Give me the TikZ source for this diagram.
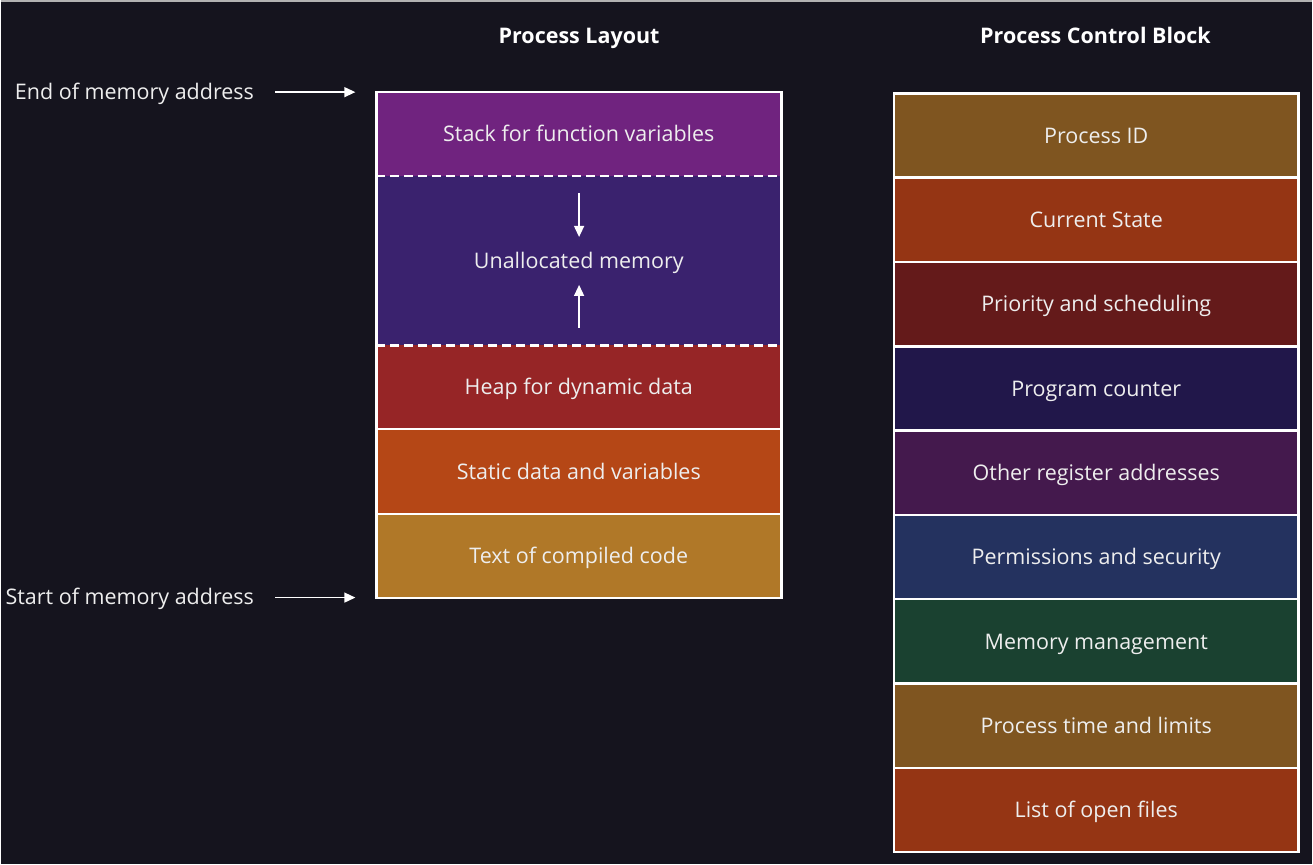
\documentclass[tikz,border=0pt]{standalone}
\usepackage{fontspec}
\setmainfont{Open Sans}
\usetikzlibrary{arrows.meta}
\definecolor{bg}{HTML}{15141E}
\definecolor{fg}{HTML}{EEEEEE}
\definecolor{cStack}{HTML}{70237F}
\definecolor{cFree}{HTML}{3A226E}
\definecolor{cHeap}{HTML}{962526}
\definecolor{cStatic}{HTML}{B54716}
\definecolor{cText}{HTML}{B07828}
\definecolor{cPid}{HTML}{7F5520}
\definecolor{cState}{HTML}{953514}
\definecolor{cPrio}{HTML}{641A1A}
\definecolor{cPc}{HTML}{21174A}
\definecolor{cReg}{HTML}{44194D}
\definecolor{cPerm}{HTML}{24325F}
\definecolor{cMem}{HTML}{1A4130}
\tikzset{
  cell/.style={anchor=north west, minimum width=405pt, inner sep=0pt,
    text height=18pt, text depth=2.6pt,
    text=fg, font=\fontsize{21.5}{25}\selectfont},
  pcb/.style={cell, draw=white, line width=2.5pt, minimum height=84.4pt},
  title/.style={anchor=base, text=white, font=\fontsize{21.5}{25}\selectfont\bfseries},
  side/.style={text=fg, font=\fontsize{21.5}{25}\selectfont, anchor=base east},
  arr/.style={draw=white, line width=1.3pt, -{Triangle[length=11pt,width=10pt]}},
}
\begin{document}
\begin{tikzpicture}[x=1pt,y=-1pt]
\fill[bg] (0,0) rectangle (1313,865);
\draw[gray!60, line width=1.5pt] (0,0.5) -- (1313,0.5);
\useasboundingbox (0,0) rectangle (1313,865);

% headings
\node[title] (hlayout) at (579,43) {Process Layout};
\node[title] (hpcb) at (1096,43) {Process Control Block};

% process layout column
\node[cell, fill=cStack, minimum height=84pt] (stack) at (376,92) {Stack for function variables};
\node[cell, fill=cFree, minimum height=169pt] (free) at (376,176) {Unallocated memory};
\node[cell, fill=cHeap, minimum height=84pt] (heap) at (376,345) {Heap for dynamic data};
\node[cell, fill=cStatic, minimum height=85pt] (static) at (376,429) {Static data and variables};
\node[cell, fill=cText, minimum height=84pt] (code) at (376,514) {Text of compiled code};
\draw[white, line width=2.5pt] (stack.north west) rectangle (code.south east);
\draw[white, line width=2.5pt, dash pattern=on 9pt off 5pt] (free.north west) -- (free.north east);
\draw[white, line width=2.5pt, dash pattern=on 9pt off 5pt] (free.south west) -- (free.south east);
\draw[white, line width=2.5pt] (heap.south west) -- (heap.south east);
\draw[white, line width=2.5pt] (static.south west) -- (static.south east);

% growth of stack and heap
\coordinate (sdown0) at (579,193);
\coordinate (sdown1) at (579,237);
\coordinate (hup0) at (579,328);
\coordinate (hup1) at (579,285);
\draw[arr] (sdown0) -- (sdown1);
\draw[arr] (hup0) -- (hup1);

% address labels
\node[side] (endlbl) at (257,99) {End of memory address};
\node[side] (startlbl) at (257,605) {Start of memory address};
\coordinate (endtail) at (275,92);
\coordinate (endtip) at (355,92);
\coordinate (starttail) at (275,598);
\coordinate (starttip) at (355,598);
\draw[arr] (endtail) -- (endtip);
\draw[arr] (starttail) -- (starttip);

% process control block column
\node[pcb, fill=cPid] (pid) at (893,92) {Process ID};
\node[pcb, fill=cState] (state) at (893,176.4) {Current State};
\node[pcb, fill=cPrio] (prio) at (893,260.8) {Priority and scheduling};
\node[pcb, fill=cPc] (pc) at (893,345.2) {Program counter};
\node[pcb, fill=cReg] (reg) at (893,429.6) {Other register addresses};
\node[pcb, fill=cPerm] (perm) at (893,514) {Permissions and security};
\node[pcb, fill=cMem] (mem) at (893,598.4) {Memory management};
\node[pcb, fill=cPid] (time) at (893,682.8) {Process time and limits};
\node[pcb, fill=cState] (files) at (893,767.2) {List of open files};
\end{tikzpicture}
\end{document}
